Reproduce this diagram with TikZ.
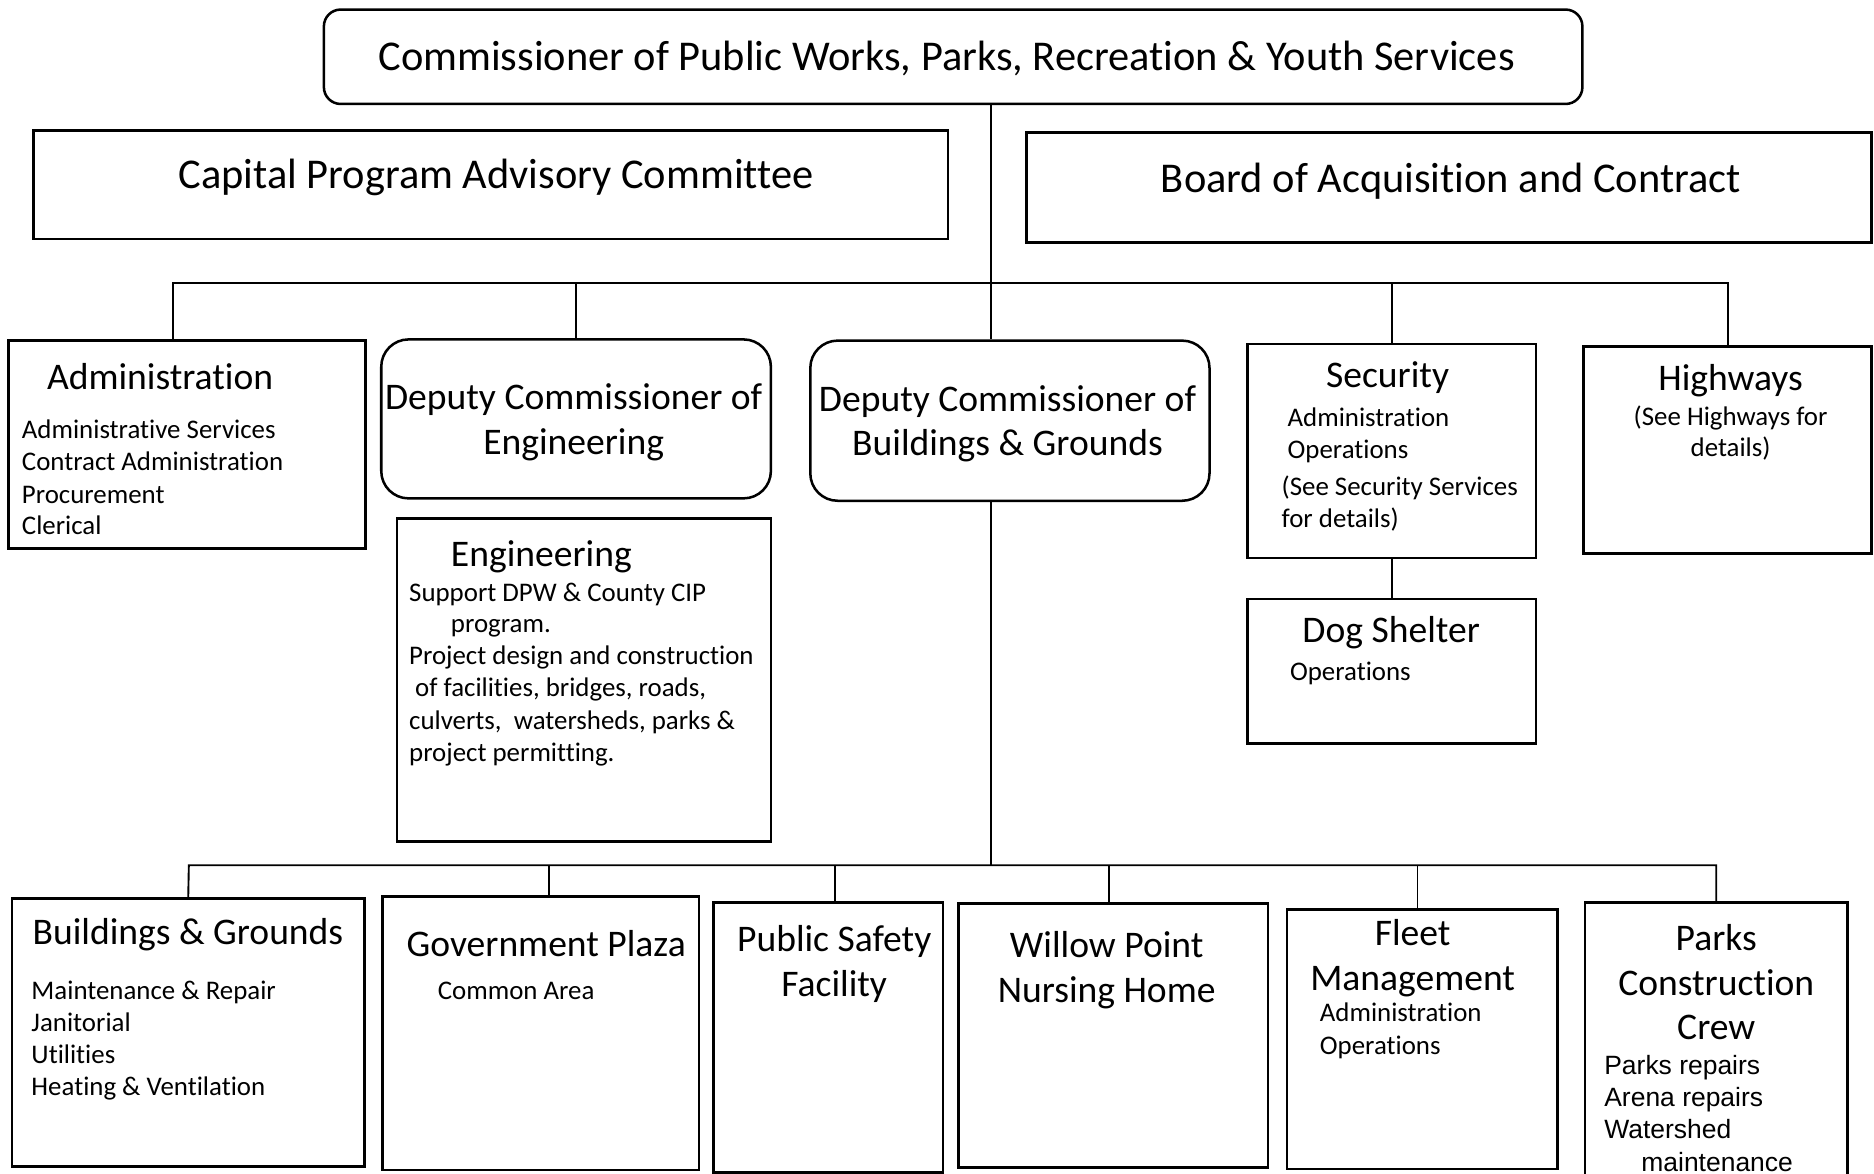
\documentclass[tikz,border=0pt]{standalone}
\usepackage{fontspec}
\setmainfont{Carlito}[Ligatures={NoCommon,NoRequired,NoContextual}, Contextuals=NoAlternate]
\newfontfamily\parksfont{Liberation Sans}
\usetikzlibrary{fit}
\tikzset{
	box/.style={draw, line width=1.2pt, inner sep=0pt},
	rbox/.style={box, rounded corners=#1},
	link/.style={line width=0.9pt},
	big/.style={inner sep=0pt, anchor=base, font=\fontsize{20.2}{24}\selectfont},
	hd/.style={inner sep=0pt, anchor=base, font=\fontsize{17.9}{21}\selectfont},
	hdl/.style={hd, anchor=base west},
	itm/.style={inner sep=0pt, anchor=base west, font=\fontsize{12.8}{15}\selectfont},
	itmc/.style={itm, anchor=base},
	pitm/.style={inner sep=0pt, anchor=base west, font=\parksfont\fontsize{12.6}{15}\selectfont}
}

\begin{document}
\begin{tikzpicture}[x=0.02cm, y=-0.02cm]
			%%%%% START %%%%%
			\useasboundingbox (0,0) rectangle (1568,982);
			\clip (0,0) rectangle (1568,982);
			
			\node[rbox=8pt, fit={(271,8) (1324,87)}] (ttl) {};
			\node[big] (ttlT) at (792,59) {Commissioner of Public Works, Parks, Recreation \& Youth Services};
			
			\node[box, fit={(28,109) (793,200)}] (cap) {};
			\node[big] (capT) at (415,158) {Capital Program Advisory Committee};
			\node[box, fit={(859,111) (1566,203)}] (boa) {};
			\node[big] (boaT) at (1214,161) {Board of Acquisition and Contract};
			
			% upper row
			\node[box, fit={(7,285) (306,459)}] (adm) {};
			\node[hdl] (admT) at (39,326) {Administration};
			\node[itm] (adm1) at (18,367) {Administrative Services};
			\node[itm] (adm2) at (18,394) {Contract Administration};
			\node[itm] (adm3) at (18,421) {Procurement};
			\node[itm] (adm4) at (18,447) {Clerical};
			
			\node[rbox=13pt, fit={(319,284) (645,417)}] (deng) {};
			\node[hd] (dengA) at (480,343) {Deputy Commissioner of};
			\node[hd] (dengB) at (480,380) {Engineering};
			
			\node[box, fit={(332,434) (645,704)}] (eng) {};
			\node[hdl] (engT) at (377,474) {Engineering};
			\node[itm] (eng1) at (342,503) {Support DPW \& County CIP};
			\node[itm] (eng2) at (377,529) {program.};
			\node[itm] (eng3) at (342,556) {Project design and construction};
			\node[itm] (eng4) at (347,583) {of facilities, bridges, roads,};
			\node[itm] (eng5) at (342,610) {culverts,\ \ watersheds, parks \&};
			\node[itm] (eng6) at (342,637) {project permitting.};
			
			\node[rbox=13pt, fit={(678,285) (1012,419)}] (depbg) {};
			\node[hd] (depbgA) at (843,344) {Deputy Commissioner of};
			\node[hd] (depbgB) at (843,381) {Buildings \& Grounds};
			
			\node[box, fit={(1044,288) (1285,467)}] (sec) {};
			\node[hd] (secT) at (1161,324) {Security};
			\node[itm] (sec1) at (1077,357) {Administration};
			\node[itm] (sec2) at (1077,384) {Operations};
			\node[itm] (sec3) at (1072,415) {(See Security Services};
			\node[itm] (sec4) at (1072,441) {for details)};
			
			\node[box, fit={(1044,501) (1285,622)}] (dog) {};
			\node[hd] (dogT) at (1164,538) {Dog Shelter};
			\node[itm] (dog1) at (1079,569) {Operations};
			
			\node[box, fit={(1325,290) (1566,463)}] (hwy) {};
			\node[hd] (hwyT) at (1448,327) {Highways};
			\node[itmc] (hwy1) at (1448,356) {(See Highways for};
			\node[itmc] (hwy2) at (1448,382) {details)};
			
			% lower row
			\node[box, fit={(10,752) (305,976)}] (bg) {};
			\node[hdl] (bgT) at (27,790) {Buildings \& Grounds};
			\node[itm] (bg1) at (26,836) {Maintenance \& Repair};
			\node[itm] (bg2) at (26,863) {Janitorial};
			\node[itm] (bg3) at (26,890) {Utilities};
			\node[itm] (bg4) at (26,917) {Heating \& Ventilation};
			
			\node[box, fit={(320,750) (585,979)}] (gov) {};
			\node[hd] (govT) at (457,800) {Government Plaza};
			\node[itm] (gov1) at (366,836) {Common Area};
			
			\node[box, fit={(597,755) (789,981)}] (psf) {};
			\node[hd] (psfA) at (698,796) {Public Safety};
			\node[hd] (psfB) at (698,834) {Facility};
			
			\node[box, fit={(802,756) (1061,977)}] (wp) {};
			\node[hd] (wpA) at (926,801) {Willow Point};
			\node[hd] (wpB) at (926,839) {Nursing Home};
			
			\node[box, fit={(1077,761) (1303,978)}] (flt) {};
			\node[hd] (fltA) at (1182,791) {Fleet};
			\node[hd] (fltB) at (1182,829) {Management};
			\node[itm] (flt1) at (1104,855) {Administration};
			\node[itm] (flt2) at (1104,882) {Operations};
			
			\node[box, fit={(1326,755) (1546,1000)}] (pcc) {};
			\node[hd] (pccA) at (1436,795) {Parks};
			\node[hd] (pccB) at (1436,833) {Construction};
			\node[hd] (pccC) at (1436,870) {Crew};
			\node[pitm] (pcc1) at (1342,899) {Parks repairs};
			\node[pitm] (pcc2) at (1342,926) {Arena repairs};
			\node[pitm] (pcc3) at (1342,953) {Watershed};
			\node[pitm] (pcc4) at (1373,980) {maintenance};
			
			% connectors
			\coordinate (tk1) at (829,237);
			\coordinate (tk2) at (829,724);
			\coordinate (ubus) at (145,237);
			\coordinate (lbus) at (158,724);
			\coordinate (dgov) at (459,724);
			\coordinate (dpsf) at (699,724);
			\coordinate (dwp) at (928,724);
			\coordinate (dflt) at (1186,724);
			
			\draw[link] (ttl.south -| tk1) -- (depbg.north -| tk1);
			\draw[link] (depbg.south -| tk2) -- (tk2);
			
			\draw[link] (ubus |- adm.north) -- (ubus) -- (ubus -| hwy.north) -- (hwy.north);
			\draw[link] (deng.north) -- (deng.north |- ubus);
			\draw[link] (sec.north) -- (sec.north |- ubus);
			\draw[link] (sec.south) -- (dog.north);
			
			\draw[link] (bg.north) -- (lbus) -- (lbus -| pcc.north) -- (pcc.north);
			\draw[link] (dgov) -- (dgov |- gov.north);
			\draw[link] (dpsf) -- (dpsf |- psf.north);
			\draw[link] (dwp) -- (dwp |- wp.north);
			\draw[link] (dflt) -- (dflt |- flt.north);
			
			%%%%% END %%%%%
\end{tikzpicture}
\end{document}
